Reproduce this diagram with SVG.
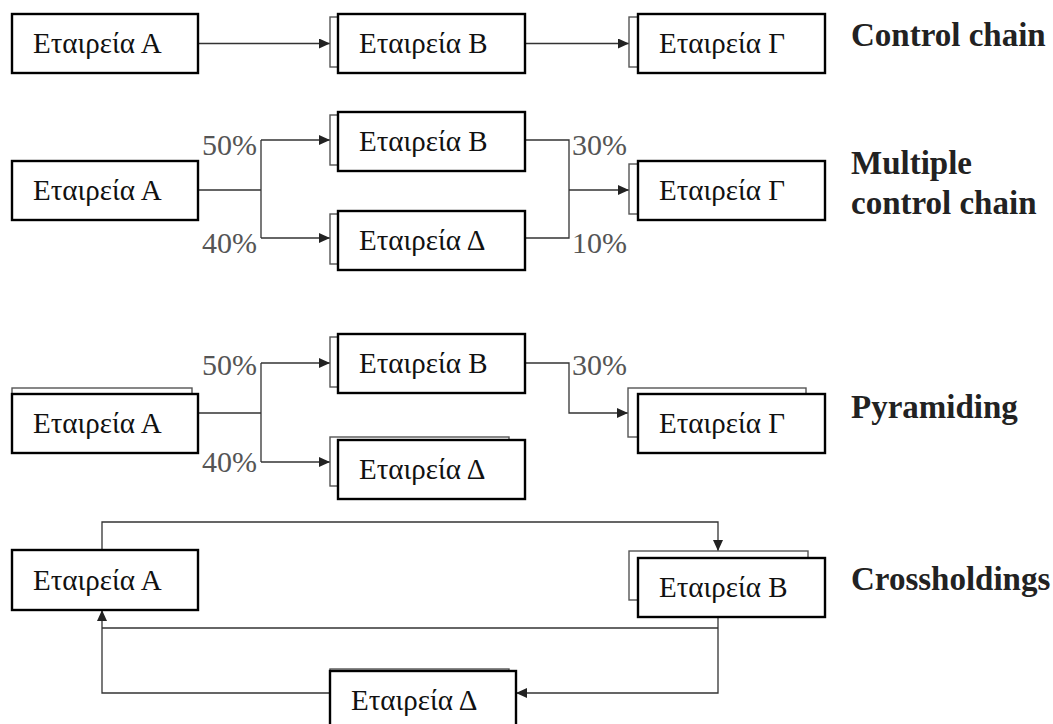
<svg xmlns="http://www.w3.org/2000/svg" width="1053" height="724" viewBox="0 0 1053 724">
<style>
.box{fill:#fff;stroke:#000;stroke-width:2.4}
.sh{fill:#fff;stroke:#555;stroke-width:1.4}
.c{fill:none;stroke:#333;stroke-width:1.3}
</style>
<defs>
<marker id="ah" markerUnits="userSpaceOnUse" markerWidth="12" markerHeight="12" refX="11" refY="5" orient="auto">
<path d="M0,0 L11,5 L0,10 z" fill="#222"/>
</marker>
</defs>
<rect x="0" y="0" width="1053" height="724" fill="#fff"/>

<g id="connectors">
<path class="c" d="M198,43.5 H330" marker-end="url(#ah)"/>
<path class="c" d="M525,43.5 H629" marker-end="url(#ah)"/>
<path class="c" d="M198,190 H261 M261,140 V238 M525,140 H569 V238 H525"/>
<path class="c" d="M261,140 H330" marker-end="url(#ah)"/>
<path class="c" d="M261,238 H330" marker-end="url(#ah)"/>
<path class="c" d="M569,190 H629" marker-end="url(#ah)"/>
<path class="c" d="M198,413 H261 M261,363 V462"/>
<path class="c" d="M261,363 H330" marker-end="url(#ah)"/>
<path class="c" d="M261,462 H330" marker-end="url(#ah)"/>
<path class="c" d="M525,363 H569 V413 H628" marker-end="url(#ah)"/>
<path class="c" d="M102,550 V522 H718 V551" marker-end="url(#ah)"/>
<path class="c" d="M718,617 V693 H516" marker-end="url(#ah)"/>
<path class="c" d="M102,628 H718"/>
<path class="c" d="M330,693 H102 V610" marker-end="url(#ah)"/>
</g>

<g id="labels">
<text x="257" y="155" text-anchor="end" font-family="Liberation Serif" font-size="30" fill="#555" style="font-family:'Liberation Serif'">50%</text>
<text x="257" y="253" text-anchor="end" font-family="Liberation Serif" font-size="30" fill="#555" style="font-family:'Liberation Serif'">40%</text>
<text x="572" y="155" font-family="Liberation Serif" font-size="30" fill="#555" style="font-family:'Liberation Serif'">30%</text>
<text x="572" y="253" font-family="Liberation Serif" font-size="30" fill="#555" style="font-family:'Liberation Serif'">10%</text>
<text x="257" y="375" text-anchor="end" font-family="Liberation Serif" font-size="30" fill="#555" style="font-family:'Liberation Serif'">50%</text>
<text x="257" y="472" text-anchor="end" font-family="Liberation Serif" font-size="30" fill="#555" style="font-family:'Liberation Serif'">40%</text>
<text x="572" y="375" font-family="Liberation Serif" font-size="30" fill="#555" style="font-family:'Liberation Serif'">30%</text>
</g>

<g id="titles">
<text x="851" y="46" font-family="Liberation Serif" font-size="33" font-weight="bold" fill="#222" style="font-family:'Liberation Serif'">Control chain</text>
<text x="851" y="174" font-family="Liberation Serif" font-size="33" font-weight="bold" fill="#222" style="font-family:'Liberation Serif'">Multiple</text>
<text x="851" y="214" font-family="Liberation Serif" font-size="33" font-weight="bold" fill="#222" style="font-family:'Liberation Serif'">control chain</text>
<text x="851" y="418" font-family="Liberation Serif" font-size="33" font-weight="bold" fill="#222" style="font-family:'Liberation Serif'">Pyramiding</text>
<text x="851" y="590" font-family="Liberation Serif" font-size="33" font-weight="bold" fill="#222" style="font-family:'Liberation Serif'">Crossholdings</text>
</g>

<g id="r1-A"><rect class="box" x="12" y="14" width="186" height="59"/><text x="33" y="53" font-family="Liberation Serif" font-size="29" fill="#111" style="font-family:'Liberation Serif'">Εταιρεία Α</text></g>
<g id="r1-B"><rect class="sh" x="330" y="17" width="20" height="50"/><rect class="box" x="338" y="14" width="187" height="59"/><text x="359" y="53" font-family="Liberation Serif" font-size="29" fill="#111" style="font-family:'Liberation Serif'">Εταιρεία Β</text></g>
<g id="r1-G"><rect class="sh" x="629" y="17" width="20" height="50"/><rect class="box" x="638" y="14" width="187" height="59"/><text x="659" y="53" font-family="Liberation Serif" font-size="29" fill="#111" style="font-family:'Liberation Serif'">Εταιρεία Γ</text></g>

<g id="r2-A"><rect class="box" x="12" y="161" width="186" height="59"/><text x="33" y="200" font-family="Liberation Serif" font-size="29" fill="#111" style="font-family:'Liberation Serif'">Εταιρεία Α</text></g>
<g id="r2-B"><rect class="sh" x="330" y="115" width="20" height="50"/><rect class="box" x="338" y="112" width="187" height="59"/><text x="359" y="151" font-family="Liberation Serif" font-size="29" fill="#111" style="font-family:'Liberation Serif'">Εταιρεία Β</text></g>
<g id="r2-D"><rect class="sh" x="330" y="214" width="20" height="50"/><rect class="box" x="338" y="211" width="187" height="59"/><text x="359" y="250" font-family="Liberation Serif" font-size="29" fill="#111" style="font-family:'Liberation Serif'">Εταιρεία Δ</text></g>
<g id="r2-G"><rect class="sh" x="629" y="164" width="20" height="50"/><rect class="box" x="638" y="161" width="187" height="59"/><text x="659" y="200" font-family="Liberation Serif" font-size="29" fill="#111" style="font-family:'Liberation Serif'">Εταιρεία Γ</text></g>

<g id="r3-A"><rect class="sh" x="12" y="388" width="180" height="30"/><rect class="box" x="12" y="394" width="186" height="59"/><text x="33" y="433" font-family="Liberation Serif" font-size="29" fill="#111" style="font-family:'Liberation Serif'">Εταιρεία Α</text></g>
<g id="r3-B"><rect class="sh" x="330" y="337" width="20" height="50"/><rect class="box" x="338" y="334" width="187" height="59"/><text x="359" y="373" font-family="Liberation Serif" font-size="29" fill="#111" style="font-family:'Liberation Serif'">Εταιρεία Β</text></g>
<g id="r3-G"><rect class="sh" x="628" y="388" width="178" height="49"/><rect class="box" x="638" y="394" width="187" height="59"/><text x="659" y="433" font-family="Liberation Serif" font-size="29" fill="#111" style="font-family:'Liberation Serif'">Εταιρεία Γ</text></g>
<g id="r3-D"><rect class="sh" x="330" y="437" width="179" height="49"/><rect class="box" x="338" y="440" width="187" height="59"/><text x="359" y="479" font-family="Liberation Serif" font-size="29" fill="#111" style="font-family:'Liberation Serif'">Εταιρεία Δ</text></g>

<g id="r4-A"><rect class="box" x="12" y="550" width="186" height="60"/><text x="33" y="590" font-family="Liberation Serif" font-size="29" fill="#111" style="font-family:'Liberation Serif'">Εταιρεία Α</text></g>
<g id="r4-B"><rect class="sh" x="629" y="551" width="179" height="49"/><rect class="box" x="638" y="558" width="187" height="59"/><text x="659" y="597" font-family="Liberation Serif" font-size="29" fill="#111" style="font-family:'Liberation Serif'">Εταιρεία Β</text></g>
<g id="r4-D"><rect class="sh" x="330" y="669" width="179" height="30"/><rect class="box" x="330" y="671" width="186" height="60"/><text x="351" y="710" font-family="Liberation Serif" font-size="29" fill="#111" style="font-family:'Liberation Serif'">Εταιρεία Δ</text></g>
</svg>
